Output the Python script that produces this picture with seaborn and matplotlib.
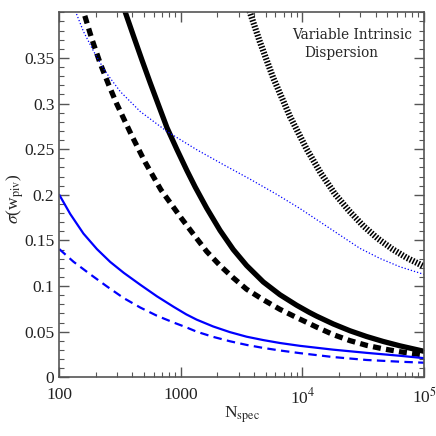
"""
plot.py
 Forecast error on w_pivot versus number of spectra, variable intrinsic dispersion case.
"""

import numpy as np
import matplotlib
matplotlib.use("Agg")
import matplotlib.pyplot as plt
from matplotlib.ticker import FixedLocator, NullFormatter, LogLocator
import seaborn as sns

# Values (N_spec, sigma(w_piv))
n_black_solid = [331, 349, 409, 479, 560, 656, 769, 929, 1122, 1312, 1629, 2099, 2698,
                 3475, 4764, 6531, 8954, 11376, 13092, 17906, 24604, 33729, 46132, 63387, 100000]
s_black_solid = [0.409, 0.400, 0.3735, 0.3475, 0.3225, 0.298, 0.2735, 0.2495, 0.2265, 0.2085,
                 0.1855, 0.161, 0.140, 0.1225, 0.1045, 0.0905, 0.0790, 0.0712, 0.0670, 0.0585,
                 0.0510, 0.0447, 0.0393, 0.0345, 0.0285]

n_black_dash = [151, 158, 185, 217, 254, 296, 394, 507, 685, 1014, 1265, 1629, 2099, 2698,
                3475, 4764, 6531, 8954, 13092, 17906, 24604, 33729, 46132, 63387, 100000]
s_black_dash = [0.410, 0.401, 0.371, 0.344, 0.321, 0.300, 0.265, 0.236, 0.2055, 0.174, 0.157,
                0.138, 0.1225, 0.109, 0.0965, 0.0850, 0.0745, 0.0655, 0.0550, 0.0468, 0.0402,
                0.0350, 0.0312, 0.0280, 0.0244]

n_black_dot = [3548, 3698, 4467, 5754, 7889, 10839, 14125, 18493, 23988, 31623, 41687,
               54954, 71945, 100000]
s_black_dot = [0.408, 0.400, 0.3676, 0.328, 0.286, 0.250, 0.224, 0.201, 0.183, 0.166, 0.152,
               0.1405, 0.131, 0.1215]

n_blue_dot = [129, 136, 158, 192, 239, 318, 463, 769, 1355, 2249, 3724, 6138, 9528, 13932,
              20324, 29717, 43351, 63387, 100000]
s_blue_dot = [0.408, 0.4009, 0.379, 0.357, 0.335, 0.313, 0.2913, 0.2694, 0.2493, 0.2329,
              0.2170, 0.2005, 0.185, 0.1704, 0.1559, 0.1413, 0.1303, 0.1211, 0.1128]

n_blue_solid = [100, 123, 158, 204, 262, 339, 463, 635, 873, 1107, 1349, 1845, 2535, 3475,
                4764, 6531, 9528, 17906, 33729, 63387, 100000]
s_blue_solid = [0.200, 0.179, 0.1575, 0.1405, 0.1265, 0.1145, 0.1015, 0.0888, 0.0772, 0.069,
                0.0632, 0.0557, 0.0495, 0.0445, 0.0408, 0.0376, 0.0345, 0.0303, 0.0268,
                0.0236, 0.0210]

n_blue_dash = [100, 131, 180, 247, 339, 463, 635, 873, 1107, 1349, 1845, 2535, 3475, 4764,
               6531, 9528, 17906, 33729, 63387, 100000]
s_blue_dash = [0.1405, 0.1266, 0.1128, 0.0995, 0.0868, 0.0765, 0.0675, 0.0600, 0.0548, 0.050,
               0.0443, 0.0395, 0.0355, 0.0322, 0.0294, 0.0265, 0.0222, 0.0190, 0.0171, 0.016]

x_ticks = [100, 1000, 1e4, 1e5]
x_ticklabels = ["100", "1000", r"10$^4$", r"10$^5$"]
y_ticks = [0, 0.05, 0.1, 0.15, 0.2, 0.25, 0.3, 0.35]
y_ticklabels = ["0", "0.05", "0.1", "0.15", "0.2", "0.25", "0.3", "0.35"]

sns.set_style("ticks")
plt.rcParams["font.family"] = ["Liberation Serif", "DejaVu Serif"]
plt.rcParams["mathtext.fontset"] = "stix"

fig = plt.figure(figsize=(4.36, 4.36), dpi=100)
ax = fig.add_axes([0.136, 0.1346, 0.8365, 0.8372])

blue = "#0000ff"
sns.lineplot(x=n_black_dot, y=s_black_dot, ax=ax, color="black", lw=4.5,
             linestyle=(0, (0.25, 0.25)))
sns.lineplot(x=n_black_solid, y=s_black_solid, ax=ax, color="black", lw=3.8)
sns.lineplot(x=n_black_dash, y=s_black_dash, ax=ax, color="black", lw=3.8,
             linestyle=(0, (1.5, 1.0)))
sns.lineplot(x=n_blue_dot, y=s_blue_dot, ax=ax, color=blue, lw=0.9,
             linestyle=(0, (1.0, 1.6)))
sns.lineplot(x=n_blue_solid, y=s_blue_solid, ax=ax, color=blue, lw=1.6)
sns.lineplot(x=n_blue_dash, y=s_blue_dash, ax=ax, color=blue, lw=1.6,
             linestyle=(0, (3.8, 2.4)))

ax.set_xscale("log")
ax.set_xlim(100, 1e5)
ax.set_ylim(0, 0.4)

ax.set_xticks(x_ticks)
ax.set_xticklabels(x_ticklabels)
ax.xaxis.set_minor_locator(LogLocator(base=10, subs=np.arange(2, 10)))
ax.xaxis.set_minor_formatter(NullFormatter())
ax.set_yticks(y_ticks)
ax.set_yticklabels(y_ticklabels)
ax.yaxis.set_minor_locator(FixedLocator(np.arange(0, 0.4001, 0.01)))

for s in ax.spines.values():
    s.set_color("#555555")
    s.set_linewidth(1.2)
ax.tick_params(which="both", direction="in", top=True, right=True,
               color="#555555", labelsize=12.5, labelcolor="#222222")
ax.tick_params(which="major", length=7, width=1)
ax.tick_params(which="minor", length=3.5, width=0.8)
ax.tick_params(axis="x", pad=7)

ax.set_xlabel(r"N$_{\rm spec}$", fontsize=12.5)
ax.set_ylabel(r"$\sigma$(w$_{\rm piv}$)", fontsize=12.5)
ax.xaxis.set_label_coords(0.5, -0.075)
ax.yaxis.set_label_coords(-0.09, 0.49)

ax.text(0.802, 0.938, "Variable Intrinsic", transform=ax.transAxes,
        ha="center", va="center", fontsize=9.8, family="DejaVu Serif")
ax.text(0.772, 0.888, "Dispersion", transform=ax.transAxes,
        ha="center", va="center", fontsize=9.8, family="DejaVu Serif")

fig.savefig("out.png", dpi=100)
